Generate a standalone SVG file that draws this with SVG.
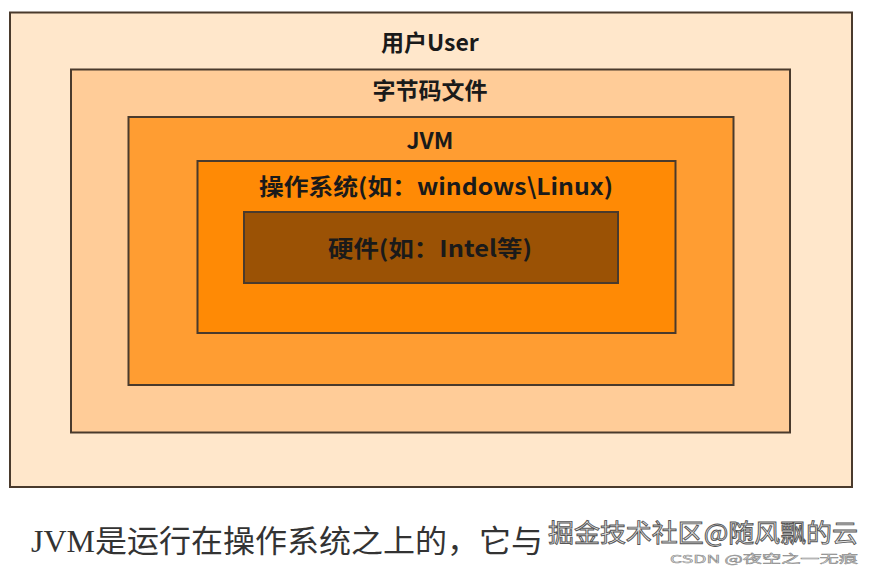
<svg xmlns="http://www.w3.org/2000/svg" width="874" height="568" viewBox="0 0 874 568">
<style>
.box{stroke:#4a3a2c;stroke-width:2}
.lbl{font-family:"Noto Sans CJK SC","Liberation Sans",sans-serif;font-weight:bold;font-size:23px;fill:#1a1a1a;text-anchor:middle}
.cap{font-family:"Liberation Serif","Noto Sans CJK SC",serif;font-size:31px;fill:#333}
.wm{font-family:"Noto Sans CJK SC",sans-serif;font-size:25px;fill:#e6e6e6;stroke:#555;stroke-width:0.9}
.wm2{font-family:"Noto Sans CJK SC",sans-serif;font-size:11px;fill:#f2f2f2;stroke:#888;stroke-width:0.5}
</style>
<rect width="874" height="568" fill="#ffffff"/>
<g id="user">
<rect class="box" x="10" y="12.5" width="842" height="474.5" fill="#FFE7CB" stroke="#5a5a5a"/>
<text class="lbl" x="430" y="51">用户User</text>
</g>
<g id="bytecode">
<rect class="box" x="71" y="69.5" width="719" height="363" fill="#FFCC98"/>
<text class="lbl" x="430" y="99">字节码文件</text>
</g>
<g id="jvm">
<rect class="box" x="128.5" y="117" width="605" height="268" fill="#FF9D32"/>
<text class="lbl" x="430" y="149">JVM</text>
</g>
<g id="os">
<rect class="box" x="197.5" y="161" width="478" height="172" fill="#FF8A05"/>
<text class="lbl" x="436" y="195" textLength="354" lengthAdjust="spacingAndGlyphs">操作系统(如：windows\Linux)</text>
</g>
<g id="hardware">
<rect class="box" x="244" y="212" width="374" height="71" fill="#9B5205"/>
<text class="lbl" x="430" y="257" textLength="204" lengthAdjust="spacingAndGlyphs">硬件(如：Intel等)</text>
</g>
<g id="connectors"></g>
<g id="caption">
<text class="cap" x="31" y="552" textLength="512" lengthAdjust="spacingAndGlyphs">JVM是运行在操作系统之上的，它与</text>
<text class="wm" x="548" y="542" textLength="310" lengthAdjust="spacingAndGlyphs">掘金技术社区@随风飘的云</text>
<text class="wm2" x="670" y="563" textLength="188" lengthAdjust="spacingAndGlyphs">CSDN @夜空之一无痕</text>
</g>
</svg>
